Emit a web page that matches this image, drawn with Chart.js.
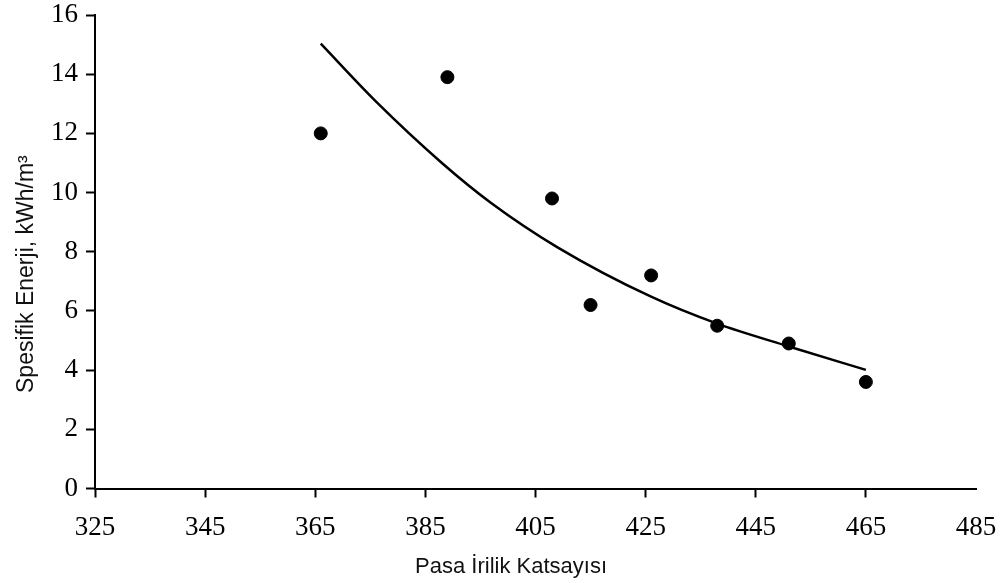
<!DOCTYPE html>
<html>
<head>
<meta charset="utf-8">
<script src="https://cdn.jsdelivr.net/npm/chart.js@4"></script>
<style>
  html, body { margin: 0; padding: 0; background: #fff; }
  #wrap { width: 1006px; height: 583px; }
</style>
</head>
<body>
<div id="wrap"><canvas id="pasaChart"></canvas></div>
<script>
// olculen noktalar
const pasaIrilik = [366, 389, 408, 415, 426, 438, 451, 465];
const spesifikEnerji = [12.0, 13.9, 9.8, 6.2, 7.2, 5.5, 4.9, 3.6];

// egilim egrisi
const trendX = [366, 376, 388, 397, 409, 426, 438, 451, 465];
const trendY = [15.03, 13.08, 11.0, 9.64, 8.15, 6.48, 5.57, 4.80, 4.01];

const xTicks = [325, 345, 365, 385, 405, 425, 445, 465, 485];
const yTicks = [0, 2, 4, 6, 8, 10, 12, 14, 16];

const points = pasaIrilik.map((x, i) => ({ x: x, y: spesifikEnerji[i] }));
const trend = trendX.map((x, i) => ({ x: x, y: trendY[i] }));

const pad = (n) => '\u00a0'.repeat(n);

const ctx = document.getElementById('pasaChart');

new Chart(ctx, {
  type: 'scatter',
  data: {
    datasets: [
      {
        label: 'Spesifik Enerji',
        data: points,
        backgroundColor: '#000',
        borderColor: '#000',
        pointRadius: 6.5,
        pointHoverRadius: 6.5
      },
      {
        label: 'Egilim',
        data: trend,
        showLine: true,
        borderColor: '#000',
        borderWidth: 2.5,
        pointRadius: 0,
        cubicInterpolationMode: 'monotone',
        fill: false
      }
    ]
  },
  options: {
    responsive: true,
    maintainAspectRatio: false,
    animation: false,
    layout: { padding: { top: 15, right: 30, left: 0, bottom: 0 } },
    plugins: {
      legend: { display: false },
      tooltip: { enabled: false }
    },
    scales: {
      x: {
        type: 'linear',
        min: 325,
        max: 485,
        afterBuildTicks: (scale) => { scale.ticks = xTicks.map(v => ({ value: v })); },
        afterFit: (scale) => {
          scale.height = 94.5;
          scale.paddingLeft = 0;
          scale.paddingRight = 0;
        },
        border: { display: true, color: '#000', width: 2 },
        grid: {
          drawOnChartArea: false,
          drawTicks: true,
          tickLength: 9,
          tickWidth: 2,
          tickColor: (c) => (c.tick && c.tick.value === 485) ? 'rgba(0,0,0,0)' : '#000'
        },
        ticks: {
          color: '#000',
          padding: 14,
          font: { family: '"Liberation Serif", "Times New Roman", serif', size: 27 }
        },
        title: {
          display: true,
          text: 'Pasa İrilik Katsayısı' + pad(8),
          color: '#111',
          padding: { top: 0, bottom: 3 },
          font: { family: '"Liberation Sans", Arial, sans-serif', size: 22 }
        }
      },
      y: {
        min: 0,
        max: 16,
        afterBuildTicks: (scale) => { scale.ticks = yTicks.map(v => ({ value: v })); },
        afterFit: (scale) => {
          scale.width = 95;
          scale.paddingTop = 0;
          scale.paddingBottom = 0;
        },
        border: { display: true, color: '#000', width: 2 },
        grid: {
          drawOnChartArea: false,
          drawTicks: true,
          tickLength: 9,
          tickWidth: 2,
          tickColor: '#000'
        },
        ticks: {
          color: '#000',
          padding: 8,
          font: { family: '"Liberation Serif", "Times New Roman", serif', size: 27 }
        },
        title: {
          display: true,
          text: 'Spesifik Enerji, kWh/m³' + pad(7),
          color: '#111',
          padding: { top: 13, bottom: 0 },
          font: { family: '"Liberation Sans", Arial, sans-serif', size: 23 }
        }
      }
    }
  }
});
</script>
</body>
</html>
